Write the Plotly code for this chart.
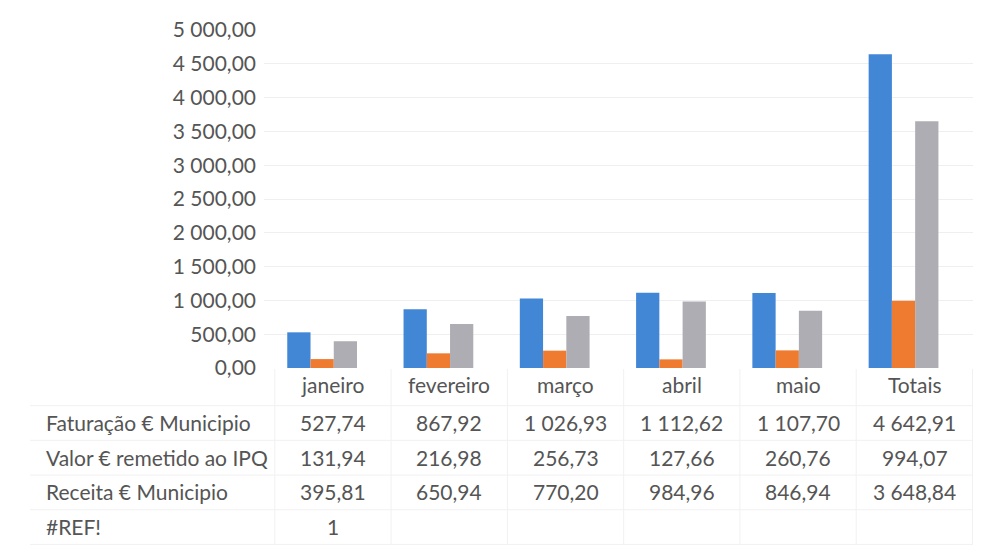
import plotly.graph_objects as go

categories = ["janeiro", "fevereiro", "março", "abril", "maio", "Totais"]
series_names = ["Faturação € Municipio", "Valor € remetido ao IPQ", "Receita € Municipio"]
faturacao = [527.74, 867.92, 1026.93, 1112.62, 1107.70, 4642.91]
valor_ipq = [131.94, 216.98, 256.73, 127.66, 260.76, 994.07]
receita = [395.81, 650.94, 770.20, 984.96, 846.94, 3648.84]
ref_row_label = "#REF!"
ref_row = ["1", "", "", "", "", ""]
colors = ["#4286d6", "#ef7b30", "#adadb3"]

FONT = "Lato"
TXT = "#555555"
FS = 21


def fmt(v):
    s = f"{v:,.2f}"
    return s.replace(",", " ").replace(".", ",")


fig = go.Figure()
for name, vals, c in zip(series_names, [faturacao, valor_ipq, receita], colors):
    fig.add_trace(go.Bar(x=categories, y=vals, name=name, marker_color=c,
                         marker_line_width=0))

rows = [(series_names[0], [fmt(v) for v in faturacao]),
        (series_names[1], [fmt(v) for v in valor_ipq]),
        (series_names[2], [fmt(v) for v in receita]),
        (ref_row_label, ref_row)]

PL, PW = 264.0, 709.0
plot_h = 341.0
row_y = [423, 458, 493, 528]
head_y = 385
XS = 11  # table columns sit slightly right of the bar groups

def py(pix):
    return (368 - pix) / plot_h

def px(pix):
    return (pix - PL) / PW

# category header
for c in categories:
    fig.add_annotation(x=c, xref="x", y=py(head_y), yref="paper", text=c,
                       showarrow=False, xanchor="center", yanchor="middle", xshift=XS,
                       font=dict(family=FONT, size=FS, color=TXT))

for (label, vals), yy in zip(rows, row_y):
    fig.add_annotation(x=px(44), xref="paper", y=py(yy), yref="paper",
                       text=label, showarrow=False, xanchor="left", yanchor="middle",
                       font=dict(family=FONT, size=FS, color=TXT))
    for c, v in zip(categories, vals):
        if v:
            fig.add_annotation(x=c, xref="x", y=py(yy), yref="paper", text=v,
                               showarrow=False, xanchor="center", yanchor="middle",
                               xshift=XS,
                               font=dict(family=FONT, size=FS, color=TXT))

# faint table grid lines
grid_c = "#f1f1f1"
dx = XS / (PW / len(categories))
for i in range(len(categories) + 1):
    fig.add_shape(type="line", xref="x", yref="paper", x0=i - 0.5 + dx, x1=i - 0.5 + dx,
                  y0=py(369), y1=py(546), line=dict(color=grid_c, width=1))
for yy in [406, 441, 476, 511, 546]:
    fig.add_shape(type="line", xref="paper", yref="paper", x0=px(30), x1=1,
                  y0=py(yy), y1=py(yy), line=dict(color=grid_c, width=1))

fig.update_layout(
    width=973, height=541,
    margin=dict(l=PL - 8, r=973 - (PL - 8) - PW, t=19, b=181),
    paper_bgcolor="white", plot_bgcolor="white",
    separators=", ",
    barmode="group", bargap=0.4, bargroupgap=0,
    showlegend=False,
    font=dict(family=FONT, size=FS, color=TXT),
    xaxis=dict(showticklabels=False, showgrid=False, showline=False, zeroline=False,
               ticks=""),
    yaxis=dict(range=[0, 5000], dtick=500, tickformat=",.2f", showgrid=True,
               gridcolor="#efefef", gridwidth=1, zeroline=False, showline=False,
               ticks="", ticklabelstandoff=7,
               tickfont=dict(family=FONT, size=FS, color=TXT)),
)

fig.write_html("out.html")
